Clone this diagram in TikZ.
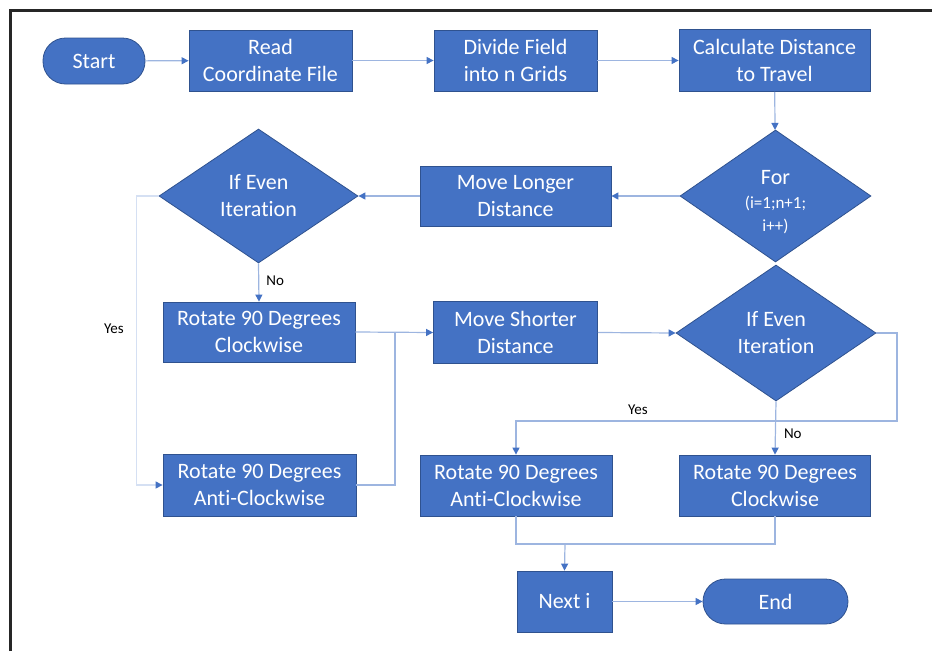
\documentclass[tikz,border=0pt]{standalone}
\usepackage{fontspec}
\setmainfont{Carlito}[Ligatures=CommonOff]
\usetikzlibrary{shapes.geometric,arrows.meta}
\definecolor{boxblue}{HTML}{4472C4}
\definecolor{boxedge}{HTML}{2F528F}
\definecolor{linkblue}{HTML}{9DB5E0}
\definecolor{faintblue}{HTML}{D5E0F3}
\tikzset{
  proc/.style={rectangle, fill=boxblue, draw=boxedge, line width=0.8, text=white,
    align=center, font=\fontsize{22}{27}\selectfont, inner sep=0},
  term/.style={proc, rounded corners=22.5},
  dec/.style={diamond, shape aspect=1.5, fill=boxblue, draw=boxedge, line width=0.8, text=white,
    align=center, font=\fontsize{22}{27}\selectfont, inner sep=0},
  conn/.style={draw=linkblue, line width=1.2},
  arr/.style={conn, -{Triangle[length=7, width=7, color=boxblue]}},
  lbl/.style={font=\fontsize{15}{18}\selectfont, text=black, inner sep=0}
}
\begin{document}
\begin{tikzpicture}[x=1pt, y=-1pt]
\useasboundingbox (0,0) rectangle (932,651);
% frame
\draw[line width=3, black!85] (10.5,651) -- (10.5,10.5) -- (932,10.5);

% nodes
\node[term, minimum width=102, minimum height=46] (start) at (94,61) {Start};
\node[proc, minimum width=163, minimum height=61] (read) at (270.5,60.5) {Read\\Coordinate File};
\node[proc, minimum width=163, minimum height=61] (divide) at (515.5,60.5) {Divide Field\\into n Grids};
\node[proc, minimum width=191, minimum height=62] (calc) at (774.5,60.5) {Calculate Distance\\to Travel};
\node[dec, minimum width=191, minimum height=132] (for) at (775.5,196)
  {\rule{0pt}{27pt}For\\[-3pt]{\fontsize{17}{20}\selectfont (i=1;n+1;}\\[-4pt]{\fontsize{17}{20}\selectfont i++)}};
\node[proc, minimum width=191, minimum height=60] (longer) at (515.5,196) {Move Longer\\Distance};
\node[dec, minimum width=199, minimum height=134] (ifL) at (258.5,196) {If Even\\Iteration};
\node[proc, minimum width=192, minimum height=60] (cwL) at (259,332) {Rotate 90 Degrees\\Clockwise};
\node[proc, minimum width=193, minimum height=62] (acwL) at (259.5,485) {Rotate 90 Degrees\\Anti-Clockwise};
\node[proc, minimum width=164, minimum height=62] (shorter) at (515.5,332.5) {Move Shorter\\Distance};
\node[dec, minimum width=200, minimum height=136] (ifR) at (776,333) {If Even\\Iteration};
\node[proc, minimum width=192, minimum height=61] (acwR) at (516,485.5) {Rotate 90 Degrees\\Anti-Clockwise};
\node[proc, minimum width=191, minimum height=61] (cwR) at (775,485.5) {Rotate 90 Degrees\\Clockwise};
\node[proc, minimum width=95, minimum height=61] (next) at (564.5,601.5) {Next i};
\node[term, minimum width=145, minimum height=45] (end) at (775.5,601.5) {End};

% helper coordinates
\coordinate (joinL) at (395,332);
\coordinate (yesR) at (897,421);
\coordinate (merge) at (565,544);

% connectors
\draw[arr] (start) -- (read);
\draw[arr] (read) -- (divide);
\draw[arr] (divide) -- (calc);
\draw[arr] (calc) -- (for);
\draw[arr] (for.west) -- (longer.east);
\draw[arr] (longer.west) -- (ifL.east);
\draw[arr] (ifL.south) -- node[lbl, right=7pt, pos=0.45] (noL) {No} (cwL.north);
\draw[conn, draw=faintblue, -{Triangle[length=7, width=7, color=boxblue]}]
  (ifL.west) -- ++(-22,0) |- (acwL.west);
\node[lbl] (yesL) at (114,329) {Yes};
\draw[arr] (cwL.east) -- (shorter.west);
\draw[conn] (acwL.east) -| (joinL);
\draw[arr] (shorter.east) -- (ifR.west);
\draw[arr] (ifR.south) -- node[lbl, right=8pt, pos=0.6] (noR) {No} (cwR.north);
\draw[arr] (ifR.east) -| (yesR) -| (acwR.north);
\node[lbl] (yesRlbl) at (638,410) {Yes};
\draw[conn] (acwR.south) |- (merge) -| (cwR.south);
\draw[arr] (merge) -- (next.north);
\draw[arr] (next) -- (end);
\end{tikzpicture}
\end{document}
